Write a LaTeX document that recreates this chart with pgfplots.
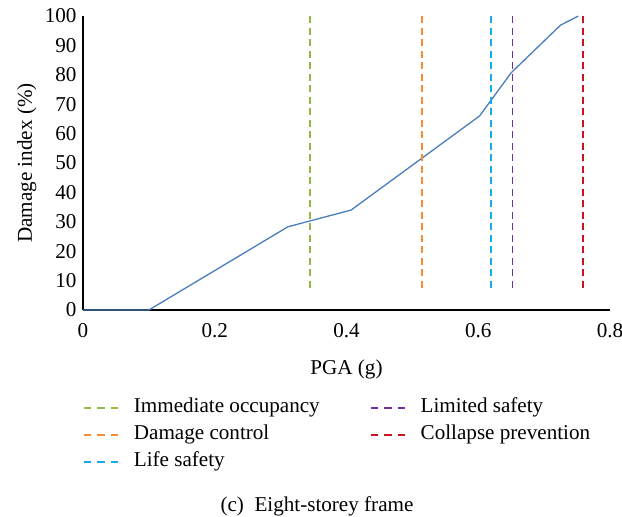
\documentclass[border=0pt]{standalone}
\usepackage{fontspec}
\setmainfont{Liberation Serif}
\usepackage{pgfplots}
\pgfplotsset{compat=1.18}

\definecolor{dmgblue}{RGB}{74,126,187}
\definecolor{ioGreen}{RGB}{145,185,70}
\definecolor{dcOrange}{RGB}{247,140,50}
\definecolor{lsCyan}{RGB}{20,170,235}
\definecolor{limPurple}{RGB}{112,48,160}
\definecolor{cpRed}{RGB}{200,20,30}

\begin{document}
\begin{tikzpicture}[font=\fontsize{21.2}{24}\selectfont]
\begin{axis}[
  at={(0,0)}, anchor=south west,
  scale only axis,
  width=527bp, height=294bp,
  xmin=0, xmax=0.8,
  ymin=0, ymax=100,
  axis lines*=left,
  axis line style={line width=1.2bp, black},
  xtick={0,0.2,0.4,0.6,0.8},
  ytick={0,10,...,100},
  major tick length=0pt,
  /pgf/number format/fixed,
  /pgf/number format/assume math mode=true,
  xticklabel style={yshift=-10bp},
  yticklabel style={xshift=-3bp},
  every axis x label/.style={at={(axis description cs:0.5,-0.2177)}, anchor=base},
  every axis y label/.style={at={(axis description cs:-0.0968,0.5)}, rotate=90, anchor=base},
  xlabel={PGA (g)},
  ylabel={Damage index (\%)},
  clip=false,
  legend columns=2,
  legend cell align=left,
  legend image code/.code={\draw[#1, dash pattern=on 7.5bp off 6bp] (0bp,0bp) -- (34bp,0bp);},
  legend style={
    draw=none, fill=none,
    at={(axis description cs:0,-0.2993)}, anchor=north west,
    inner sep=0pt, outer sep=0pt,
    nodes={inner sep=0pt, text height=15bp, text depth=5bp},
    column sep=15bp, row sep=7bp,
    /tikz/every even column/.append style={column sep=50bp},
  },
  level/.style={line width=1.9bp, dash pattern=on 7bp off 4.5bp},
]
% damage index curve
\addplot[dmgblue, line width=1.3bp, forget plot] coordinates {
  (0,0) (0.1,0) (0.311,28.3) (0.407,34.0) (0.602,66.0) (0.650,80.7) (0.725,96.9) (0.752,100)
};
% performance levels (order gives two-column legend layout)
\addplot[ioGreen, level] coordinates {(0.344,7.5) (0.344,101)};
\addlegendentry{Immediate occupancy}
\addplot[limPurple, level] coordinates {(0.652,7.5) (0.652,101)};
\addlegendentry{Limited safety}
\addplot[dcOrange, level] coordinates {(0.514,7.5) (0.514,101)};
\addlegendentry{Damage control}
\addplot[cpRed, level] coordinates {(0.759,7.5) (0.759,101)};
\addlegendentry{Collapse prevention}
\addplot[lsCyan, level] coordinates {(0.620,7.5) (0.620,101)};
\addlegendentry{Life safety}

\node[anchor=base] at (axis description cs:0.444,-0.6837) {(c)\enspace Eight-storey frame};
\end{axis}
\pgfresetboundingbox
\path[use as bounding box] (-83bp,-207bp) rectangle (539bp,310bp);
\end{tikzpicture}
\end{document}
